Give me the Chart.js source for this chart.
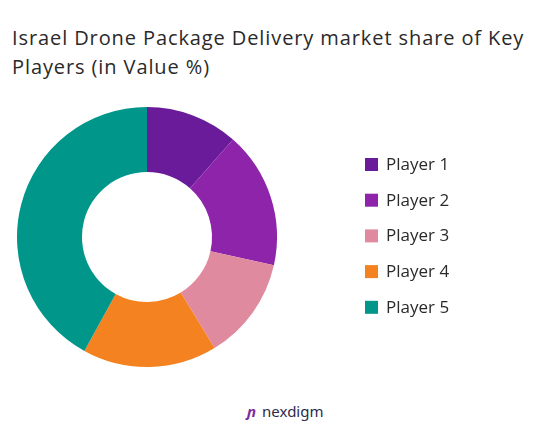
<!DOCTYPE html>
<html><head><meta charset="utf-8">
<script src="https://cdn.jsdelivr.net/npm/chart.js@4"></script>
<style>
body{margin:0;width:544px;height:443px;background:#fff;font-family:"Open Sans",sans-serif;overflow:hidden;position:relative}
#t{position:absolute;left:12px;top:23px;font-size:20px;line-height:29px;color:#2a2a2a;letter-spacing:0.9px}
#c{position:absolute;left:0;top:95px}
#logo{position:absolute;left:247px;top:401px;font-size:15px;color:#2b2b4a;font-family:"Noto Sans",sans-serif}
#logo b{color:#7b2c9b;font-style:italic;font-weight:700;margin-right:6px}
</style></head><body>
<div id="t">Israel Drone Package Delivery market share of Key<br>Players (in Value %)</div>
<canvas id="c" width="544" height="285"></canvas>
<div id="logo"><b>ɲ</b>nexdigm</div>
<script>
const labels=["Player 1","Player 2","Player 3","Player 4","Player 5"];
const values=[11.5,17,12.8,16.7,42];
const colors=["#6a1b9a","#8e24aa","#e08aa0","#f58220","#00968a"];
const legendPlugin={id:'lg',afterDraw(ch){const c=ch.ctx;c.save();c.font='17px "Open Sans"';c.textBaseline='middle';
labels.forEach((l,i)=>{const y=70+i*35.7;c.fillStyle=colors[i];c.fillRect(365,y-7,13,13);c.fillStyle='#2a2a2a';c.fillText(l,386,y);});c.restore();}};
new Chart(document.getElementById('c'),{type:'doughnut',
data:{labels,datasets:[{data:values,backgroundColor:colors,borderWidth:0}]},
options:{responsive:false,animation:false,cutout:'50%',layout:{padding:{left:17,right:267,top:12,bottom:13}},
plugins:{legend:{display:false},tooltip:{enabled:false}}},plugins:[legendPlugin]});
</script></body></html>
